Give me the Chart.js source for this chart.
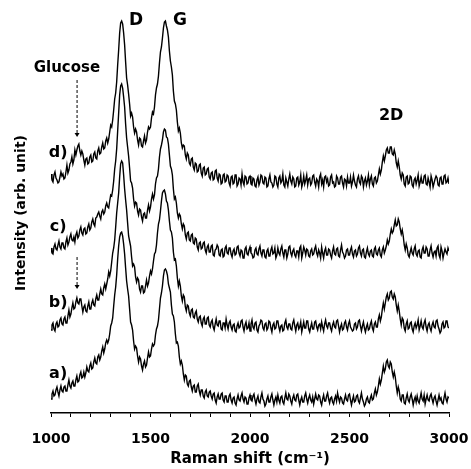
<!DOCTYPE html>
<html>
<head>
<meta charset="utf-8">
<script src="https://cdn.jsdelivr.net/npm/chart.js@4.4.1/dist/chart.umd.min.js"></script>
<style>
  body { margin: 0; background: #fff; }
</style>
</head>
<body>
<canvas id="raman" width="471" height="469"></canvas>
<script>
// sampling grid of the spectra (cm-1)
var shiftStart = 1000;
var shiftStep = 5;

// offset intensities, one row = 100 cm-1
var specA = [
  14,19,22,17,18,23,26,21,17,23,27,22,21,26,27,22,22,28,33,27,
  25,30,32,27,27,33,37,31,32,38,41,35,36,41,36,40,46,42,41,47,
  50,44,45,51,55,50,49,56,58,53,56,62,66,60,64,70,73,70,73,79,
  87,90,95,107,118,126,138,154,167,176,180,181,177,169,159,145,132,124,117,104,
  91,88,83,72,64,67,65,57,51,56,54,47,43,49,52,46,48,55,61,56,
  57,64,69,67,69,78,84,87,93,104,115,120,127,137,143,144,142,138,129,125,
  121,108,99,97,91,79,70,71,67,56,49,52,48,39,33,38,37,29,27,32,
  33,26,22,27,28,21,21,27,29,22,18,23,23,17,15,21,23,17,16,21,
  22,17,14,19,20,13,10,16,19,14,14,19,20,13,11,17,17,11,11,17,
  19,13,10,15,16,10,8,14,18,13,12,17,20,14,11,16,15,9,9,15,
  18,13,12,17,19,13,9,14,17,11,10,16,20,14,12,7,9,14,17,11,
  11,16,19,13,8,13,16,11,18,13,10,16,17,11,9,15,20,14,13,19,
  17,12,9,15,18,13,12,18,19,13,8,13,16,11,11,17,20,14,10,15,
  18,13,11,16,9,14,19,14,13,18,17,11,8,14,18,12,12,17,20,14,
  10,15,16,11,9,14,17,12,20,15,11,16,15,10,9,14,18,13,12,18,
  19,13,8,13,17,11,12,17,18,12,10,15,20,14,11,7,9,14,16,11,
  10,15,18,13,14,20,24,18,21,27,34,29,33,40,47,41,44,51,53,47,
  45,51,49,41,36,41,36,27,20,26,22,14,12,18,18,10,9,15,19,13,
  11,16,19,14,8,13,16,11,17,12,10,15,20,14,12,18,9,14,18,13,
  12,17,19,14,10,15,17,12,8,13,18,13,15,10,9,15,20,14,11,16,
  15
];
var specB = [
  83,88,90,84,82,89,91,86,87,93,95,89,88,94,96,90,90,97,103,96,
  99,105,110,104,105,111,115,110,109,114,114,107,101,106,108,102,101,107,111,104,
  104,110,113,108,107,114,118,113,113,119,124,119,118,125,129,124,129,134,141,137,
  142,151,160,165,173,186,200,210,220,236,249,252,250,238,224,213,203,190,177,172,
  167,156,147,149,146,136,131,135,133,124,121,127,127,120,121,127,133,127,130,137,
  142,139,144,152,159,161,168,180,189,193,202,212,220,222,223,219,212,210,203,192,
  183,181,175,161,153,154,147,135,127,132,127,117,112,118,116,106,102,108,107,100,
  97,103,104,96,95,100,102,94,91,96,97,90,87,94,96,89,89,95,96,88,
  86,91,93,86,83,89,94,88,87,92,92,84,83,90,90,85,94,88,84,90,
  92,86,83,88,89,82,81,87,90,85,86,92,93,86,82,88,91,84,85,90,
  82,89,93,86,84,90,91,83,81,87,89,93,92,85,83,89,90,83,85,92,
  91,85,81,88,90,84,85,92,92,86,82,87,88,82,83,90,93,86,84,89,
  89,84,83,90,93,87,82,88,90,84,86,91,81,86,91,85,85,92,92,84,
  81,86,90,84,84,91,92,86,83,88,89,84,91,86,82,89,93,87,85,90,
  90,85,82,88,91,86,85,92,93,87,81,86,89,83,84,90,92,86,83,89,
  92,86,84,82,83,89,90,84,86,92,93,87,82,87,91,85,81,86,89,83,
  84,89,92,85,82,89,91,86,86,94,98,92,96,104,110,104,110,116,119,113,
  115,121,122,116,114,119,116,108,102,108,102,94,88,95,93,85,82,89,92,84,
  85,90,91,84,81,87,90,85,88,93,83,87,92,86,84,90,93,86,82,88,
  90,85,82,88,91,86,85,92,93,87,84,80,82,89,91,85,86,92,92,86,
  85
];
var specC = [
  165,160,159,166,169,164,163,168,172,166,164,170,170,165,164,171,175,168,171,176,
  179,173,172,176,171,178,181,175,177,183,186,180,178,184,185,179,180,186,189,183,
  185,191,194,189,187,195,196,199,201,197,194,201,203,199,201,207,210,206,205,212,
  218,217,223,232,244,252,264,282,300,318,327,329,325,316,306,289,275,266,257,245,
  232,230,225,214,207,211,210,202,198,204,203,196,192,199,200,195,195,203,208,202,
  206,214,219,214,218,229,235,237,244,256,264,268,273,281,284,283,276,275,269,258,
  247,244,238,224,214,216,210,200,195,199,197,189,184,189,187,178,174,180,181,173,
  172,178,179,170,169,175,174,166,163,170,171,164,165,170,171,163,160,166,168,161,
  161,167,168,158,157,163,164,168,166,158,157,163,164,156,157,165,167,160,159,165,
  165,159,156,162,164,158,159,166,167,160,157,163,162,155,155,164,166,159,158,163,
  166,160,159,155,156,163,165,159,158,164,167,160,157,163,163,156,155,162,164,157,
  157,163,166,159,160,165,155,158,165,160,158,164,167,160,156,163,163,155,159,166,
  167,160,157,162,164,158,156,162,162,156,165,167,155,160,166,163,158,164,163,157,
  156,162,164,158,159,164,167,160,157,163,160,155,166,160,155,162,165,158,158,164,
  163,158,155,162,166,159,158,164,165,157,156,163,168,161,159,155,157,163,164,158,
  158,163,166,159,156,162,163,157,159,165,167,160,157,163,164,156,155,161,165,159,
  157,162,163,157,156,164,166,159,158,163,165,158,156,163,166,160,163,167,173,169,
  172,179,184,180,182,188,193,187,188,194,191,184,179,183,177,168,163,169,165,158,
  156,161,165,160,158,164,167,159,157,162,163,156,155,163,166,160,160,166,164,157,
  157,163,167,160,156,161,162,157,165,167,158,155,166,162,155,160,164,161,159,165,
  162
];
var specD = [
  239,233,231,238,241,235,233,230,231,236,241,237,239,234,235,241,248,240,243,249,
  251,256,249,253,263,258,263,267,269,262,258,262,259,253,248,254,255,249,250,256,
  258,251,252,259,261,255,254,262,265,259,260,266,270,264,265,272,275,270,274,281,
  288,286,293,303,314,320,331,348,363,380,390,392,389,380,368,351,335,328,319,309,
  297,300,296,286,280,284,281,273,268,275,274,267,266,272,277,270,273,281,286,284,
  286,295,301,299,306,318,325,329,337,350,361,366,375,385,391,392,387,383,376,362,
  352,346,338,322,312,309,303,291,282,285,280,270,265,268,267,258,254,260,258,250,
  248,254,255,246,243,250,249,241,242,248,249,240,237,245,246,238,239,244,245,236,
  234,240,241,233,234,242,243,235,232,239,238,229,230,238,239,231,232,238,237,230,
  227,236,237,229,230,238,238,227,229,235,234,228,239,231,228,237,236,229,230,236,
  237,229,228,235,234,227,226,233,236,228,231,238,237,230,229,236,235,226,227,234,
  238,231,230,226,228,237,236,229,226,235,237,230,232,239,228,226,235,231,227,234,
  239,232,229,236,234,226,227,235,236,228,231,238,226,230,237,229,233,238,228,234,
  235,228,230,237,238,231,227,234,232,226,236,239,229,233,226,236,237,231,234,227,
  228,236,238,230,231,226,227,237,235,229,229,236,237,230,226,234,233,227,236,230,
  230,236,227,231,238,232,228,226,234,237,231,229,237,235,226,232,235,228,232,238,
  228,234,237,229,227,235,236,230,232,238,244,239,243,251,257,252,257,263,265,260,
  260,266,266,259,258,263,259,250,246,252,246,238,234,240,238,229,227,236,237,229,
  230,237,236,228,226,233,235,229,233,238,227,231,236,230,230,237,238,229,228,235,
  231,226,237,233,226,230,234,237,235,228,227,235,236,229,229,237,238,230,231,235,
  229
];
var sampleNames = ["a)", "b)", "c)", "d)"];

function toPoints(vals) {
  var pts = [];
  for (var i = 0; i < vals.length; i++) {
    pts.push({ x: shiftStart + i * shiftStep, y: vals[i] });
  }
  return pts;
}

var FONT = "'DejaVu Sans', sans-serif";
Chart.defaults.color = "#000";
Chart.defaults.font.family = FONT;

// peak names, sample letters and the glucose arrows
var notes = {
  id: "notes",
  afterDatasetsDraw: function (chart) {
    var ctx = chart.ctx;
    var xs = chart.scales.x, ys = chart.scales.y;
    ctx.save();
    ctx.fillStyle = "#000";
    ctx.strokeStyle = "#000";
    ctx.textAlign = "center";
    ctx.textBaseline = "middle";
    function put(txt, x, y, size) {
      ctx.font = "bold " + size + "px " + FONT;
      ctx.fillText(txt, xs.getPixelForValue(x), ys.getPixelForValue(y));
    }
    put("D", 1427, 392, 17);
    put("G", 1648, 392, 17);
    put("2D", 2709, 297, 16);
    put("Glucose", 1080, 345, 15);
    var rowY = [39, 110, 186, 260];
    for (var i = 0; i < sampleNames.length; i++) {
      put(sampleNames[i], 1036, rowY[i], 16);
    }
    var ax = xs.getPixelForValue(1131);
    [[333, 276], [156, 124]].forEach(function (a) {
      var y0 = ys.getPixelForValue(a[0]), y1 = ys.getPixelForValue(a[1]);
      ctx.lineWidth = 1;
      ctx.setLineDash([3, 2]);
      ctx.beginPath();
      ctx.moveTo(ax, y0);
      ctx.lineTo(ax, y1 - 3);
      ctx.stroke();
      ctx.setLineDash([]);
      ctx.beginPath();
      ctx.moveTo(ax - 2.5, y1 - 4);
      ctx.lineTo(ax + 2.5, y1 - 4);
      ctx.lineTo(ax, y1);
      ctx.closePath();
      ctx.fill();
    });
    ctx.restore();
  }
};

function line(vals) {
  return {
    data: toPoints(vals),
    borderColor: "#000",
    borderWidth: 1.4,
    pointRadius: 0,
    fill: false,
    tension: 0
  };
}

new Chart("raman", {
  type: "line",
  data: {
    datasets: [line(specA), line(specB), line(specC), line(specD)]
  },
  options: {
    responsive: false,
    animation: false,
    layout: { padding: { top: 13, right: 22, left: 0, bottom: 0 } },
    plugins: {
      legend: { display: false },
      tooltip: { enabled: false }
    },
    scales: {
      x: {
        type: "linear",
        min: 1000,
        max: 3000,
        afterFit: function (s) {
          s.height = 56;
          s.paddingLeft = 0;
          s.paddingRight = 0;
        },
        border: { display: true, color: "#000", width: 1.5 },
        grid: { drawOnChartArea: false, drawTicks: true, tickLength: 4, color: "#000", lineWidth: 1 },
        ticks: {
          stepSize: 100,
          autoSkip: false,
          maxRotation: 0,
          padding: 14,
          font: { size: 14, weight: "bold" },
          callback: function (v) { return v % 500 === 0 ? v : ""; }
        },
        title: {
          display: true,
          text: "Raman shift (cm\u207B\u00B9)",
          font: { size: 15, weight: "bold" },
          padding: { top: 0, bottom: 1 }
        }
      },
      y: {
        min: 0,
        max: 400,
        afterFit: function (s) { s.width = 51; },
        border: { display: false },
        grid: { display: false },
        ticks: { display: false },
        title: {
          display: true,
          text: "Intensity (arb. unit)",
          font: { size: 14, weight: "bold" },
          padding: { top: 13, bottom: 0 }
        }
      }
    }
  },
  plugins: [notes]
});
</script>
</body>
</html>
